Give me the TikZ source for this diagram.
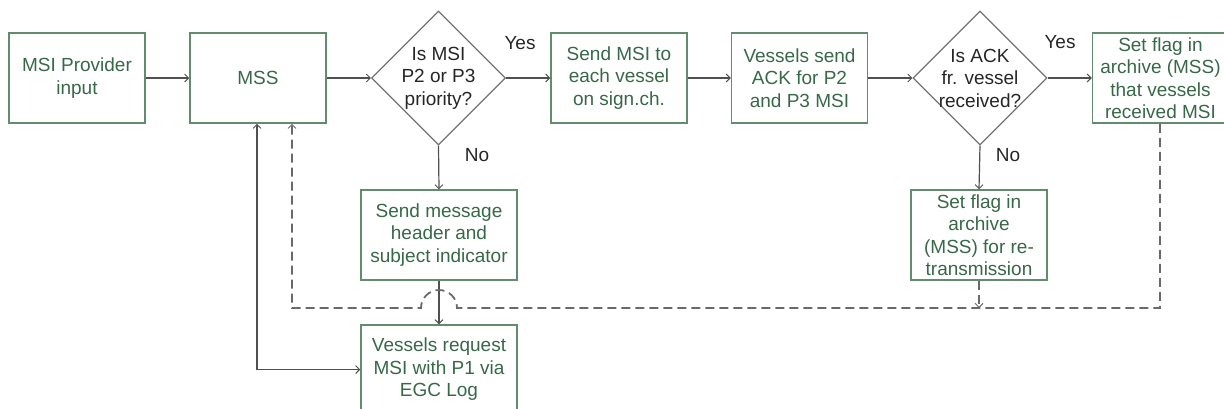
\documentclass[tikz,border=0pt]{standalone}
\usepackage{fontspec}
\setmainfont{Liberation Sans}
\usetikzlibrary{shapes.geometric,arrows.meta}

\definecolor{boxline}{RGB}{98,140,110}
\definecolor{boxtext}{RGB}{55,104,72}
\definecolor{flowline}{RGB}{80,80,80}
\definecolor{dashline}{RGB}{105,105,105}

\tikzset{
  procbox/.style={draw=boxline, line width=1.5pt, text=boxtext, align=center,
    minimum width=136pt, minimum height=90pt, inner sep=2pt,
    font=\fontsize{19}{22.5}\selectfont},
  widebox/.style={procbox, minimum width=156pt},
  decision/.style={draw=flowline!80, line width=1.2pt, shape=diamond,
    minimum width=134pt, minimum height=134pt, inner sep=0pt},
  decisiontext/.style={text=black!85, align=center, inner sep=0pt,
    font=\fontsize{19}{22.5}\selectfont},
  answer/.style={text=black!85, inner sep=0pt, font=\fontsize{19}{22.5}\selectfont},
  tip/.style={-{Straight Barb[length=4pt,width=8pt,line width=0.9pt]}},
  flow/.style={draw=flowline, line width=1.2pt, tip},
  backflow/.style={draw=dashline, line width=1.8pt, dash pattern=on 9pt off 5pt, tip}
}

\begin{document}
\begin{tikzpicture}[x=1pt,y=-1pt]
  \useasboundingbox (0,0) rectangle (1224,408);
  \clip (0,0) rectangle (1224,408);

  % main row
  \node[procbox] (prov) at (77,78) {MSI Provider\\input};
  \node[procbox] (mss)  at (258,78) {MSS};
  \node[decision] (q1) at (438.5,78) {};
  \node[decisiontext] (q1t) at (q1) {Is MSI\\P2 or P3\\priority?};
  \node[procbox] (send) at (619,78) {Send MSI to\\each vessel\\on sign.ch.};
  \node[procbox] (ack)  at (799.5,78) {Vessels send\\ACK for P2\\and P3 MSI};
  \node[decision] (q2) at (980,78) {};
  \node[decisiontext] (q2t) at (q2) {Is ACK\\fr. vessel\\received?};
  \node[procbox] (setf) at (1160.5,78) {Set flag in\\archive (MSS)\\that vessels\\received MSI};

  % lower branches
  \node[widebox] (hdr)  at (439,235) {Send message\\header and\\subject indicator};
  \node[widebox, minimum height=89pt] (req) at (439,369.5) {Vessels request\\MSI with P1 via\\EGC Log};
  \node[procbox] (retx) at (979,235) {Set flag in\\archive\\(MSS) for re-\\transmission};

  % answer labels
  \node[answer] (yes1) at (520,43) {Yes};
  \node[answer] (no1)  at (477,155) {No};
  \node[answer] (yes2) at (1060,42) {Yes};
  \node[answer] (no2)  at (1008,155) {No};

  % forward flow
  \draw[flow] (prov.east) -- (mss.west);
  \draw[flow] (mss.east) -- (q1.west);
  \draw[flow] (q1.east) -- (send.west);
  \draw[flow] (send.east) -- (ack.west);
  \draw[flow] (ack.east) -- (q2.west);
  \draw[flow] (q2.east) -- (setf.west);
  \draw[flow] (q1.south) -- (hdr.north);
  \draw[flow] (q2.south) -- (retx.north);
  \draw[flow] (hdr.south) -- (req.north);

  % request loop between MSS and the EGC log
  \coordinate (loop) at (257,369.5);
  \draw[flow, {Straight Barb[length=4pt,width=8pt,line width=0.9pt]}-{Straight Barb[length=4pt,width=8pt,line width=0.9pt]}]
    (mss.south -| loop) -- (loop) -- (req.west);

  % dashed return path with a hop over the header arrow
  \coordinate (retR)  at (1160,308);
  \coordinate (hopR)  at (457,308);
  \coordinate (retL)  at (292,308);
  \draw[backflow] (setf.south -| retR) -- (retR) -- (hopR)
    arc[start angle=0, end angle=180, radius=18pt] -- (retL) -- (mss.south -| retL);
  \draw[backflow] (retx.south) -- (retx.south |- retR);
\end{tikzpicture}
\end{document}
